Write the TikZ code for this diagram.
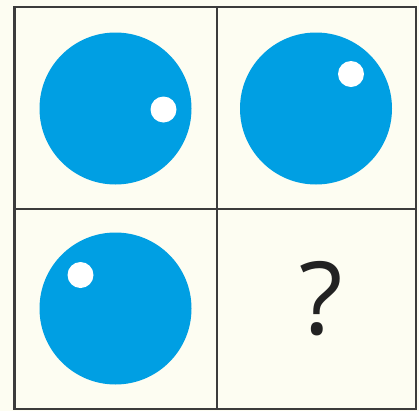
\documentclass[tikz,border=0pt]{standalone}
\usepackage{fontspec}
\newfontfamily\qfont{Open Sans}
\definecolor{cream}{HTML}{FDFDF2}
\definecolor{ballblue}{HTML}{009FE3}
\definecolor{gridline}{HTML}{3C3C3C}
\definecolor{qmark}{HTML}{222222}
\tikzset{
  gridstyle/.style={draw=gridline, line width=2bp},
  ball/.style={fill=ballblue},
  shine/.style={fill=white},
}
\begin{document}
\begin{tikzpicture}[x=1bp,y=-1bp]
\fill[cream] (0,0) rectangle (419,411);
\useasboundingbox (0,0) rectangle (419,411);
% grid
\draw[gridstyle] (14.5,7) rectangle (415.5,409);
\draw[gridstyle] (216.5,7) -- (216.5,409);
\draw[gridstyle] (14.5,209) -- (415.5,209);
% balls
\fill[ball] (115.5,108.5) circle (76);
\fill[shine] (163.5,109.5) circle (13);
\fill[ball] (316,108.5) circle (76);
\fill[shine] (351,74) circle (13);
\fill[ball] (115.5,308.5) circle (76);
\fill[shine] (80.5,275) circle (13);
% question mark
\node[inner sep=0pt, text=qmark, font=\qfont\fontsize{101bp}{101bp}\selectfont] (q) at (321,299) {?};
\end{tikzpicture}
\end{document}
